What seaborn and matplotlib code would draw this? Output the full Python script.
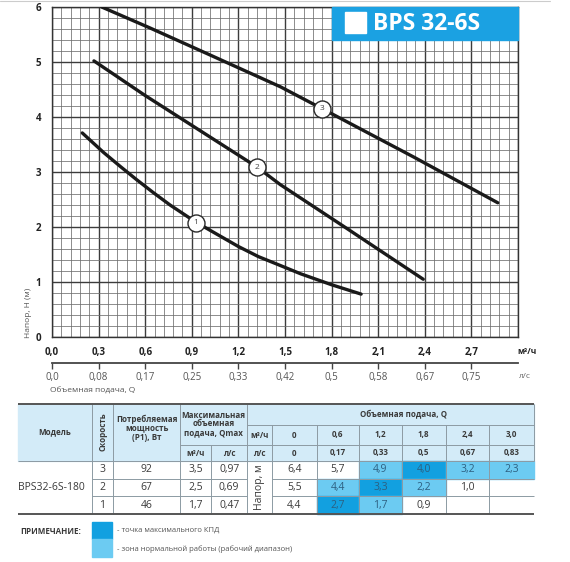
import numpy as np
import pandas as pd
import seaborn as sns
import matplotlib.pyplot as plt
from matplotlib.patches import Rectangle
from matplotlib.ticker import MultipleLocator, FixedLocator

# ---------------- data ----------------
curve1_q = [0.195, 0.33, 0.44, 0.545, 0.65, 0.76, 0.856, 0.925, 1.20, 1.33, 1.47, 1.60, 1.80, 1.99]
curve1_h = [3.71, 3.36, 3.10, 2.86, 2.63, 2.40, 2.22, 2.09, 1.645, 1.46, 1.30, 1.15, 0.95, 0.78]
curve2_q = [0.27, 0.60, 1.32, 1.47, 1.90, 2.39]
curve2_h = [5.02, 4.39, 3.09, 2.77, 1.97, 1.05]
curve3_q = [0.32, 0.63, 1.00, 1.47, 1.74, 2.33, 2.87]
curve3_h = [6.00, 5.62, 5.15, 4.55, 4.15, 3.27, 2.44]
label_names = ["1", "2", "3"]
label_q = [0.925, 1.32, 1.74]
label_h = [2.08, 3.09, 4.15]

x_ticks = [0.0, 0.3, 0.6, 0.9, 1.2, 1.5, 1.8, 2.1, 2.4, 2.7]
x_labels_m3h = ["0,0", "0,3", "0,6", "0,9", "1,2", "1,5", "1,8", "2,1", "2,4", "2,7"]
x_labels_ls = ["0,0", "0,08", "0,17", "0,25", "0,33", "0,42", "0,5", "0,58", "0,67", "0,75"]
y_ticks = [0, 1, 2, 3, 4, 5, 6]

title = "BPS 32-6S"
model = "BPS32-6S-180"
speeds = ["3", "2", "1"]
power = ["92", "67", "46"]
qmax_m3h = ["3,5", "2,5", "1,7"]
qmax_ls = ["0,97", "0,69", "0,47"]
q_m3h = ["0", "0,6", "1,2", "1,8", "2,4", "3,0"]
q_ls = ["0", "0,17", "0,33", "0,5", "0,67", "0,83"]
head_vals = [["6,4", "5,7", "4,9", "4,0", "3,2", "2,3"],
             ["5,5", "4,4", "3,3", "2,2", "1,0", ""],
             ["4,4", "2,7", "1,7", "0,9", "", ""]]
# 2 = max efficiency point, 1 = working range, 0 = none
zone = [[0, 0, 1, 2, 1, 1],
        [0, 1, 2, 1, 0, 0],
        [0, 2, 1, 0, 0, 0]]

# ---------------- style ----------------
sns.set_theme(style="white")
plt.rcParams['font.family'] = ['Open Sans', 'DejaVu Sans']

DARK_BLUE = "#12a0e0"
LIGHT_BLUE = "#6ccbf2"
HEAD_BLUE = "#d3ebf8"
TXT = "#3a3a3a"

W, H = 570, 562
fig = plt.figure(figsize=(W / 100, H / 100), dpi=100)
ax = fig.add_axes([52 / W, 1 - 337 / H, 466 / W, 330 / H])

rows = []
for name, qs, hs in [("1", curve1_q, curve1_h), ("2", curve2_q, curve2_h), ("3", curve3_q, curve3_h)]:
    for q, h in zip(qs, hs):
        rows.append({"speed": name, "Q": q, "H": h})
df = pd.DataFrame(rows)
sns.lineplot(data=df, x="Q", y="H", hue="speed", palette=["#1a1a1a"] * 3,
             estimator=None, sort=False, lw=2.4, legend=False, ax=ax, zorder=4)

ax.set_xlim(0, 3.0)
ax.set_ylim(0, 6)
ax.xaxis.set_minor_locator(MultipleLocator(0.06))
ax.yaxis.set_minor_locator(MultipleLocator(0.2))
ax.set_xticks(x_ticks + [3.0], x_labels_m3h + [""])
ax.set_yticks(y_ticks, [str(v) for v in y_ticks])
ax.grid(which="major", color="#3c3c3c", lw=1.0)
ax.grid(which="minor", color="#6e6e6e", lw=0.55)
ax.set_axisbelow(True)
for s in ax.spines.values():
    s.set_color("#333333")
    s.set_linewidth(1.0)
ax.tick_params(axis="both", which="both", length=0)
ax.tick_params(axis="x", pad=7, labelsize=7, labelcolor="#222222")
ax.tick_params(axis="y", pad=8, labelsize=7, labelcolor="#222222")
for lab in ax.get_xticklabels() + ax.get_yticklabels():
    lab.set_fontweight("bold")
ax.set_xlabel("")
ax.set_ylabel("")

# labelled circles on curves
ax.scatter(label_q, label_h, s=150, facecolor="white", edgecolor="#2a2a2a", lw=1.0, zorder=6)
for n, q, h in zip(label_names, label_q, label_h):
    ax.text(q, h, n, ha="center", va="center", fontsize=6, color="#444444", zorder=7)

# secondary axis in l/s
sec = ax.secondary_xaxis(-0.078)
sec.set_xticks(x_ticks, x_labels_ls)
sec.tick_params(axis="x", length=4, width=1, color="#444444", pad=3, labelsize=7, labelcolor="#555555")
sec.spines["bottom"].set_color("#444444")
sec.spines["bottom"].set_linewidth(1.3)

# ---------------- overlay in pixel coords ----------------
ov = fig.add_axes([0, 0, 1, 1], zorder=10)
ov.set_xlim(0, W)
ov.set_ylim(H, 0)
ov.axis("off")
ov.patch.set_alpha(0)

ov.plot([0, 550], [1, 1], color="#cccccc", lw=0.8)

# title box
ov.add_patch(Rectangle((332, 7), 186, 33, color="#1ba1e2", zorder=2))
ov.add_patch(Rectangle((345, 12), 21, 21, color="white", zorder=3))
ov.text(373, 24.5, title, color="white", fontsize=16.5, fontweight="bold", ha="left", va="center", zorder=3)

# axis annotations
ov.text(527, 352, "м³/ч", fontsize=6, fontweight="bold", color="#222222", ha="center", va="center")
ov.text(525, 377, "л/с", fontsize=6, color="#666666", ha="center", va="center")
ov.text(50, 391, "Объемная подача, Q", fontsize=6, color="#555555", ha="left", va="center")
ov.text(28, 338, "Напор, Н (м)", fontsize=6, color="#555555", rotation=90, ha="center", va="bottom")

# ---------------- table ----------------
col = [18, 91.7, 113.3, 180, 211, 247.3, 271.7, 316.7, 359, 401.7, 445.7, 489.3, 534.3]
rtop, r1, r2, rhead = 404, 425, 445, 461
rdata = [461, 478.7, 496.3, 514]
cx = [(col[i] + col[i + 1]) / 2 for i in range(len(col) - 1)]
LC = "#8c9aa3"

ov.add_patch(Rectangle((col[0], rtop), col[-1] - col[0], rhead - rtop, color=HEAD_BLUE, zorder=1))
for i in range(3):
    for j in range(6):
        if zone[i][j]:
            ov.add_patch(Rectangle((col[6 + j], rdata[i]), col[7 + j] - col[6 + j], rdata[i + 1] - rdata[i],
                                   color=DARK_BLUE if zone[i][j] == 2 else LIGHT_BLUE, zorder=1))

def hl(y, x0, x1, c=LC, lw=0.7):
    ov.plot([x0, x1], [y, y], color=c, lw=lw, zorder=2, solid_capstyle="butt")

def vl(x, y0, y1, c=LC, lw=0.7):
    ov.plot([x, x], [y0, y1], color=c, lw=lw, zorder=2, solid_capstyle="butt")

for k in (1, 2, 3, 5, 12):
    vl(col[k], rtop, rhead)
vl(col[4], r2, rhead)
for k in range(6, 12):
    vl(col[k], r1, rhead)
hl(r1, col[5], col[12])
hl(r2, col[3], col[12])
hl(rhead, col[0], col[12])
for k in range(1, 12):
    vl(col[k], rdata[0], rdata[3])
for y in rdata[1:3]:
    hl(y, col[1], col[5])
    hl(y, col[6], col[12])
hl(rtop, col[0], col[12], c="#555555", lw=1.4)
hl(rdata[3], col[0], col[12], c="#555555", lw=1.4)

hk = dict(fontsize=5.8, fontweight="bold", color=TXT, ha="center", va="center", linespacing=1.0, zorder=3)
ov.text(cx[0], 432, "Модель", **hk)
ov.text(cx[1], 432, "Скорость", rotation=90, **hk)
ov.text(cx[2], 428, "Потребляемая\nмощность\n(P1), Вт", **hk)
ov.text((col[3] + col[5]) / 2, 424, "Максимальная\nобъемная\nподача, Qmax", **hk)
ov.text(cx[3], 453, "м³/ч", **hk)
ov.text(cx[4], 453, "л/с", **hk)
ov.text(403, 414.5, "Объемная подача, Q", **hk)
ov.text(cx[5], 435, "м³/ч", **hk)
ov.text(cx[5], 453, "л/с", **hk)
for j in range(6):
    ov.text(cx[6 + j], 435, q_m3h[j], **hk)
    ov.text(cx[6 + j], 453, q_ls[j], **hk)

dk = dict(fontsize=7.5, color=TXT, ha="center", va="center", zorder=3)
ycen = [(rdata[i] + rdata[i + 1]) / 2 for i in range(3)]
ov.text(cx[0] - 3, ycen[1], model, **dk)
ov.text(cx[5], ycen[1], "Напор, м", rotation=90, **dk)
for i in range(3):
    ov.text(cx[1], ycen[i], speeds[i], **dk)
    ov.text(cx[2], ycen[i], power[i], **dk)
    ov.text(cx[3], ycen[i], qmax_m3h[i], **dk)
    ov.text(cx[4], ycen[i], qmax_ls[i], **dk)
    for j in range(6):
        c = "#2d5f80" if zone[i][j] else TXT
        ov.text(cx[6 + j], ycen[i], head_vals[i][j], fontsize=7.5, color=c, ha="center", va="center", zorder=3)

# notes
ov.text(20, 531, "ПРИМЕЧАНИЕ:", fontsize=5.8, fontweight="bold", color=TXT, ha="left", va="center")
ov.add_patch(Rectangle((92, 522), 20, 16.5, color=DARK_BLUE))
ov.add_patch(Rectangle((92, 538.5), 20, 18.5, color=LIGHT_BLUE))
ov.text(117, 530, "- точка максимального КПД", fontsize=5.5, color="#555555", ha="left", va="center")
ov.text(117, 549, "- зона нормальной работы (рабочий диапазон)", fontsize=5.5, color="#555555", ha="left", va="center")

fig.savefig("out.png", dpi=100)
